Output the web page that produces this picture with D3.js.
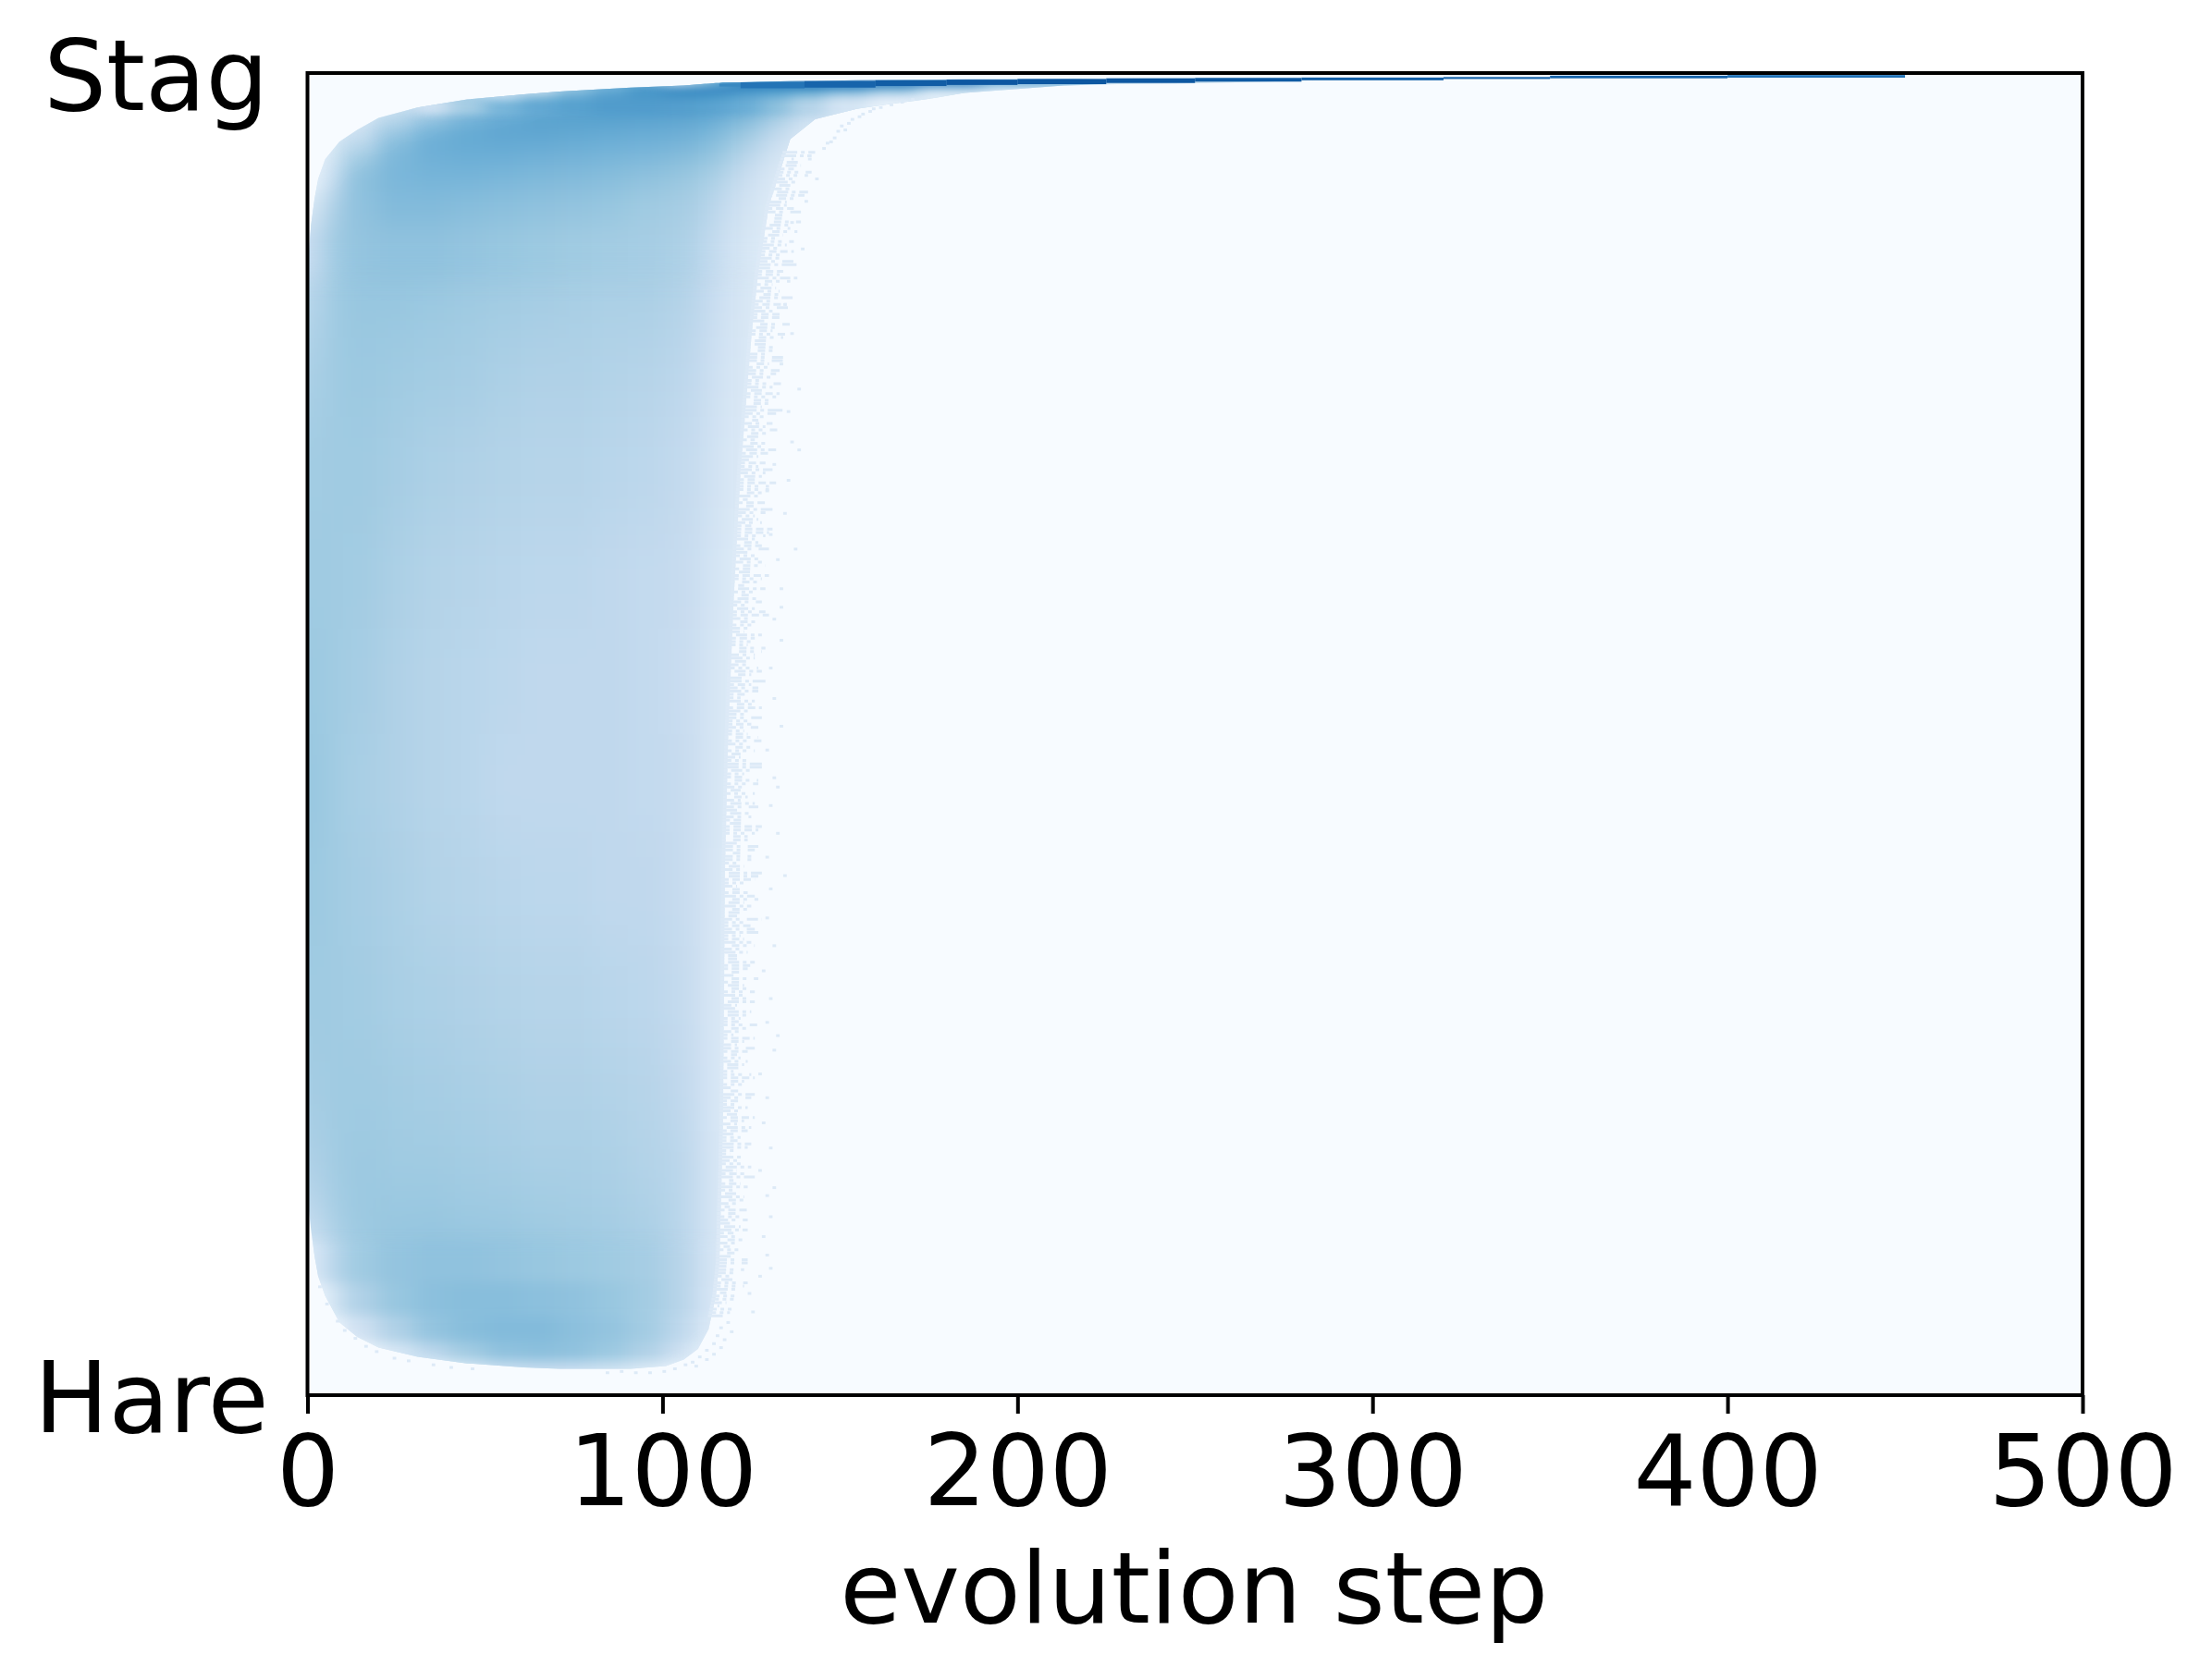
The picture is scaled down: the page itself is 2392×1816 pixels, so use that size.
<!DOCTYPE html>
<html>
<head>
<meta charset="utf-8">
<script src="https://cdn.jsdelivr.net/npm/d3@7"></script>
<style>
  html, body { margin: 0; background: #fff; }
  text { font-family: "DejaVu Sans"; fill: #000; }
</style>
</head>
<body>
<div id="chart"></div>
<script>
var xTicks = [0, 100, 200, 300, 400, 500];
var yLabels = ["Hare", "Stag"];
var xTitle = "evolution step";

// same stops as the matplotlib Blues map
var blues = ["#f7fbff","#deebf7","#c6dbef","#9ecae1","#6baed6","#4292c6","#2171b5","#08519c","#08306b"];

// bin edges of the density grid
var stepEdges = [0,4,10,20,30,40,50,60,70,80,90,100,108,114,120,128,136,146,158,172,190,220,280,500];
var shareEdges = [1,.995,.99,.985,.98,.97,.96,.945,.93,.91,.885,.85,.8,.74,.66,.58,.5,.42,.34,.26,.2,.15,.115,.085,.06,.04,.025,.015];

// density per row (top to bottom), per step bin. short rows are empty on the right
var density = [
  [],
  [0,0,0,0,0,0,0,0,0,0,0,.2,.38,.55,.7,.74,.78,.78,.78,.7,.55,.3],
  [0,0,0,0,0,0,0,.2,.4,.5,.6,.64,.66,.66,.64,.62,.6,.55,.45,.3,.1],
  [0,0,0,0,0,0,.18,.4,.5,.57,.6,.62,.62,.6,.55,.5,.42,.3,.2,.05],
  [0,0,0,0,.2,.35,.47,.53,.56,.58,.58,.57,.56,.54,.5,.42,.3,.17,.08],
  [0,0,0,.2,.4,.5,.54,.56,.56,.56,.55,.54,.53,.5,.44,.34,.2,.1],
  [0,0,.2,.42,.5,.52,.53,.53,.52,.51,.5,.49,.47,.43,.36,.25,.14],
  [0,.12,.36,.46,.49,.5,.5,.49,.48,.47,.46,.44,.42,.38,.28,.18,.12],
  [.05,.22,.42,.46,.47,.47,.46,.45,.44,.43,.41,.39,.36,.31,.22,.14,.1],
  [.15,.32,.41,.44,.44,.43,.42,.41,.4,.39,.37,.35,.32,.26,.18,.12,.1],
  [.24,.36,.4,.41,.41,.4,.39,.38,.37,.36,.35,.33,.29,.23,.16,.11],
  [.29,.37,.39,.39,.38,.37,.36,.35,.34,.33,.33,.31,.27,.21,.15,.11,.08],
  [.33,.37,.38,.37,.36,.35,.33,.32,.32,.31,.3,.28,.25,.19,.14,.1],
  [.36,.37,.37,.35,.33,.32,.31,.3,.3,.29,.28,.26,.23,.17,.13,.1],
  [.37,.37,.36,.33,.31,.3,.29,.28,.28,.27,.26,.25,.21,.16,.12,.1],
  [.38,.37,.35,.32,.3,.29,.28,.27,.27,.27,.26,.24,.2,.15,.12],
  [.39,.37,.34,.32,.3,.29,.27,.27,.27,.27,.26,.25,.2,.15,.12],
  [.38,.37,.35,.33,.31,.3,.29,.28,.28,.27,.27,.25,.2,.14,.12],
  [.37,.37,.36,.34,.33,.32,.31,.3,.3,.29,.28,.26,.2,.14,.12],
  [.35,.37,.37,.36,.35,.34,.33,.32,.32,.31,.3,.27,.21,.14,.12],
  [.32,.36,.38,.37,.37,.36,.35,.34,.34,.33,.31,.29,.22,.14,.12],
  [.26,.34,.38,.39,.39,.38,.38,.37,.36,.35,.33,.29,.22,.14,.12],
  [.13,.28,.37,.4,.41,.41,.4,.39,.38,.37,.35,.3,.22,.14,.1],
  [.03,.16,.32,.39,.42,.43,.43,.42,.41,.39,.36,.3,.21,.13,.1],
  [0,.03,.2,.32,.4,.43,.44,.44,.42,.4,.36,.28,.17,.11],
  [0,0,.03,.16,.28,.36,.41,.42,.41,.38,.32,.22,.1],
  [0,0,0,0,.02,.1,.2,.22,.21,.18,.12,.05]
];

// outline of the populated region: lowest and highest share reached at each step
var outlineSteps = [0,1,2,3,5,9,14,20,31,45,61,71,91,101,106,110,113,115,116,117,117.3,117.6,118.5,120,122,125,127,130,136,143,155,165,174,185,200,213,228,244,262,278,298,351,400,450,470];
var outlineLow = [.15,.125,.105,.09,.075,.055,.044,.036,.029,.024,.021,.02,.02,.022,.027,.035,.05,.075,.1,.2,.3,.4,.5,.6,.7,.8,.85,.9,.95,.965,.973,.977,.98,.985,.988,.9905,.9916,.992,.993,.994,.9951,.9958,.9965,.997,.9975];
var outlineHigh = [.85,.885,.905,.92,.935,.948,.957,.966,.974,.98,.984,.986,.989,.99,.9905,.9915,.992,.9925,.9925,.993,.993,.993,.993,.993,.993,.9932,.9933,.9935,.9938,.994,.9945,.9948,.995,.9952,.9955,.9958,.996,.9963,.9965,.9967,.997,.998,.9985,.999,.999];

// the dark thin streak at the top
var streakSteps = [116,122,140,160,180,200,225,250,280,320,350,400,450];
var streakLow = [.9898,.9885,.989,.9902,.991,.9916,.9925,.9935,.9945,.9955,.996,.9965];
var streakHigh = [.992,.993,.9938,.9945,.995,.9955,.996,.9963,.9966,.997,.998,.9985];
var streakDensity = [.66,.74,.8,.83,.85,.85,.85,.84,.82,.8,.8,.75];

// how far the sparse last runs reach, row by row, share .06 to .94 every .005
var fringeFirstShare = .06;
var fringeShareStep = .005;
var fringeReach = [
  117,120,118,122,121,124,119,123,124,120,123,121,122,124,119,122,124,121,123,120,
  122,126,121,124,123,120,125,122,124,121,126,123,121,125,122,124,126,120,123,122,
  124,121,126,123,127,122,125,121,124,126,123,127,122,125,121,124,126,123,127,125,
  128,122,125,127,124,121,126,128,123,125,122,127,124,126,128,123,125,127,122,126,
  124,127,123,128,125,122,126,128,124,127,125,123,128,126,124,127,129,125,127,124,
  126,129,125,128,124,127,130,126,128,125,129,127,130,125,128,126,130,127,129,131,
  128,126,131,129,127,130,132,128,131,129,127,132,130,128,133,131,129,134,130,132,
  129,134,131,133,130,135,132,130,134,131,136,133,131,135,137,133,131,136,134,138,
  133,137,135,132,138,136,134,139,135,137,141,136,138,142,139,137,143
];
// same for the rows in between, share .0625 to .9375
var fringeReachB = [
  119,116,121,118,123,120,122,118,124,121,119,123,120,122,124,121,119,123,121,124,
  120,123,125,121,119,124,122,120,125,123,121,124,122,126,120,123,125,122,124,121,
  126,123,120,125,122,124,121,126,123,125,122,120,124,126,121,123,125,122,126,124,
  121,125,123,126,122,124,127,123,121,125,126,122,124,127,123,125,121,126,124,122,
  127,123,125,128,122,126,124,127,123,125,128,124,126,122,127,125,123,128,124,126,
  128,124,126,123,127,125,129,124,127,126,123,128,125,129,127,124,128,126,130,125,
  127,129,126,124,128,130,126,129,127,125,130,128,126,131,129,127,132,128,130,133,
  131,128,132,130,134,129,132,130,135,132,129,133,136,131,134,132,136,133,131,137,
  135,133,137,134,136,139,134,137,135,140,136,138,141,137,139,142
];
// stray occupied cells outside the solid shape: [step, share]
var strays = [
  [131,.705],[136,.722],[129,.685],[134,.668],[130,.652],[132,.633],[133,.611],[131,.588],[133,.572],[130,.551],
  [131,.528],[133,.507],[129,.489],[131,.468],[130,.447],[132,.426],[129,.408],[130,.384],[129,.362],[131,.341],
  [128,.322],[130,.301],[129,.283],[131,.262],[127,.244],[129,.226],[128,.207],[130,.188],[127,.171],[129,.152],
  [130,.136],[128,.121],[129,.107],[127,.091],[124,.078],[125,.064],[135,.745],[138,.762],[133,.781],[136,.804],
  [134,.826],[137,.846],[139,.868],[136,.888],[140,.904],[143,.921],[141,.936],[146,.948],[151,.958],[138,.716],
  [135,.693],[137,.641],[133,.597],[132,.461],[134,.394],[132,.273],[131,.158],[130,.097],
  [148,.952],[150,.961],[145,.944],[153,.966],[149,.957],[156,.970],[152,.963],[158,.972],[147,.949],[155,.968],
  [161,.975],[164,.977],[159,.974],[167,.979],[170,.981],
  [118,.056],[116,.052],[119,.049],[115,.046],[117,.043],[114,.04],[116,.037],[112,.035],[114,.032],[110,.03],
  [112,.028],[108,.026],[106,.024],[109,.023],[103,.021],[100,.019],[96,.018],[92,.018],[88,.019],[84,.018],
  [10,.05],[13,.044],[8,.057],[16,.038],[5,.07],[19,.034],[24,.029],[28,.027],[3,.083],[35,.024],[40,.022],[46,.021]
];
// gap patterns of the sparse runs, one bin is about 4px
var fringeDashes = ["8 4", "4 4 12 4", "12 4 4 8", "16 4 4 4", "4 8 8 4", "8 4 4 4 4 8"];

var width = 2392, height = 1816;
var margin = {top: 79, right: 140, bottom: 307, left: 332.5};

var svg = d3.select("#chart").append("svg")
  .attr("width", width)
  .attr("height", height)
  .style("display", "block");

var x = d3.scaleLinear().domain([0, 500]).range([margin.left, width - margin.right]);
var y = d3.scaleLinear().domain([0, 1]).range([height - margin.bottom, margin.top]);
var color = d3.scaleLinear().domain(blues.map(function(c, i) { return i / 8; })).range(blues);

var defs = svg.append("defs");
defs.append("clipPath").attr("id", "plot-clip").append("rect")
  .attr("x", x(0)).attr("y", y(1))
  .attr("width", x(500) - x(0)).attr("height", y(0) - y(1));

var outlineArea = d3.area()
  .x(function(d) { return x(d); })
  .y0(function(d, i) { return y(outlineLow[i]); })
  .y1(function(d, i) { return y(outlineHigh[i]); });
defs.append("clipPath").attr("id", "outline-clip").append("path")
  .attr("d", outlineArea(outlineSteps));

function addBlur(id, dev) {
  defs.append("filter").attr("id", id)
    .attr("filterUnits", "userSpaceOnUse")
    .attr("x", 0).attr("y", 0).attr("width", width).attr("height", height)
    .attr("color-interpolation-filters", "sRGB")
    .append("feGaussianBlur").attr("stdDeviation", dev);
}
addBlur("soft-wide", "14 34");
addBlur("soft-top", "12 13");
addBlur("soft-rim", "10 4");
addBlur("soft-bottom", "12 7");

// background of the heatmap
svg.append("rect")
  .attr("x", x(0)).attr("y", y(1))
  .attr("width", x(500) - x(0)).attr("height", y(0) - y(1))
  .attr("fill", color(0));

var cells = [];
density.forEach(function(row, r) {
  row.forEach(function(v, c) {
    if (v > 0) cells.push({r: r, c: c, v: v});
  });
});

var plot = svg.append("g").attr("clip-path", "url(#plot-clip)");
var shape = plot.append("g").attr("clip-path", "url(#outline-clip)");

// tall rows need more smoothing than the thin ones near the top and bottom,
// so the thin rows go in their own layers over the wide one
function drawCells(list, filterId) {
  // the blur fades out at the frame, so the first column runs a bit past it
  shape.append("g").attr("filter", "url(#" + filterId + ")")
    .selectAll("rect").data(list).enter().append("rect")
    .attr("x", function(d) { return d.c == 0 ? x(-30) : x(stepEdges[d.c]); })
    .attr("y", function(d) { return y(shareEdges[d.r]); })
    .attr("width", function(d) { return x(stepEdges[d.c + 1]) - (d.c == 0 ? x(-30) : x(stepEdges[d.c])) + 0.5; })
    .attr("height", function(d) { return y(shareEdges[d.r + 1]) - y(shareEdges[d.r]) + 0.5; })
    .attr("fill", function(d) { return color(d.v); });
}
drawCells(cells, "soft-wide");
drawCells(cells.filter(function(d) { return d.r <= 10; }), "soft-top");
drawCells(cells.filter(function(d) { return d.r <= 4; }), "soft-rim");
drawCells(cells.filter(function(d) { return d.r >= 22; }), "soft-bottom");

plot.append("g").selectAll("rect").data(streakDensity).enter().append("rect")
  .attr("x", function(d, i) { return x(streakSteps[i]); })
  .attr("y", function(d, i) { return y(streakHigh[i]); })
  .attr("width", function(d, i) { return x(streakSteps[i + 1]) - x(streakSteps[i]); })
  .attr("height", function(d, i) { return y(streakLow[i]) - y(streakHigh[i]); })
  .attr("fill", function(d) { return color(d); });

// sparse edge: one dashed run per row, starting on the solid edge
var edgeFrom = outlineLow.indexOf(.02) + 1;
var solidEdge = d3.scaleLinear()
  .domain(outlineLow.slice(edgeFrom))
  .range(outlineSteps.slice(edgeFrom));
function drawFringe(reach, first) {
  plot.append("g").selectAll("line").data(reach).enter().append("line")
    .attr("x1", function(d, i) { return x(solidEdge(first + i * fringeShareStep) - 1); })
    .attr("x2", function(d, i) { return Math.max(x(d), x(solidEdge(first + i * fringeShareStep) - 1)); })
    .attr("y1", function(d, i) { return y(first + i * fringeShareStep); })
    .attr("y2", function(d, i) { return y(first + i * fringeShareStep); })
    .attr("stroke", color(.13))
    .attr("stroke-width", 3)
    .attr("stroke-dasharray", function(d, i) { return fringeDashes[(i * 5 + d) % fringeDashes.length]; });
}
drawFringe(fringeReach, fringeFirstShare);
drawFringe(fringeReachB, fringeFirstShare + fringeShareStep / 2);

plot.append("g").selectAll("rect").data(strays).enter().append("rect")
  .attr("x", function(d) { return x(d[0]); })
  .attr("y", function(d) { return y(d[1]); })
  .attr("width", x(1) - x(0))
  .attr("height", 3)
  .attr("fill", color(.13));

// frame
svg.append("rect")
  .attr("x", x(0)).attr("y", y(1))
  .attr("width", x(500) - x(0)).attr("height", y(0) - y(1))
  .attr("fill", "none").attr("stroke", "#000").attr("stroke-width", 4);

var xAxis = d3.axisBottom(x).tickValues(xTicks).tickSize(20).tickPadding(23).tickFormat(d3.format("d"));
var gx = svg.append("g").attr("transform", "translate(0," + y(0) + ")").call(xAxis);
gx.select(".domain").remove();
gx.selectAll("line").attr("stroke", "#000").attr("stroke-width", 4);
gx.selectAll("text").attr("font-size", 107).attr("font-family", "DejaVu Sans").attr("fill", "#000");

var yAxis = d3.axisLeft(y).tickValues([0, 1]).tickSize(0).tickPadding(42)
  .tickFormat(function(d) { return yLabels[d]; });
var gy = svg.append("g").attr("transform", "translate(" + x(0) + ",5)").call(yAxis);
gy.select(".domain").remove();
gy.selectAll("text").attr("font-size", 107).attr("font-family", "DejaVu Sans").attr("fill", "#000");

svg.append("text")
  .attr("x", (x(0) + x(500)) / 2 - 1)
  .attr("y", 1755)
  .attr("text-anchor", "middle")
  .attr("font-size", 107.5)
  .text(xTitle);
</script>
</body>
</html>
